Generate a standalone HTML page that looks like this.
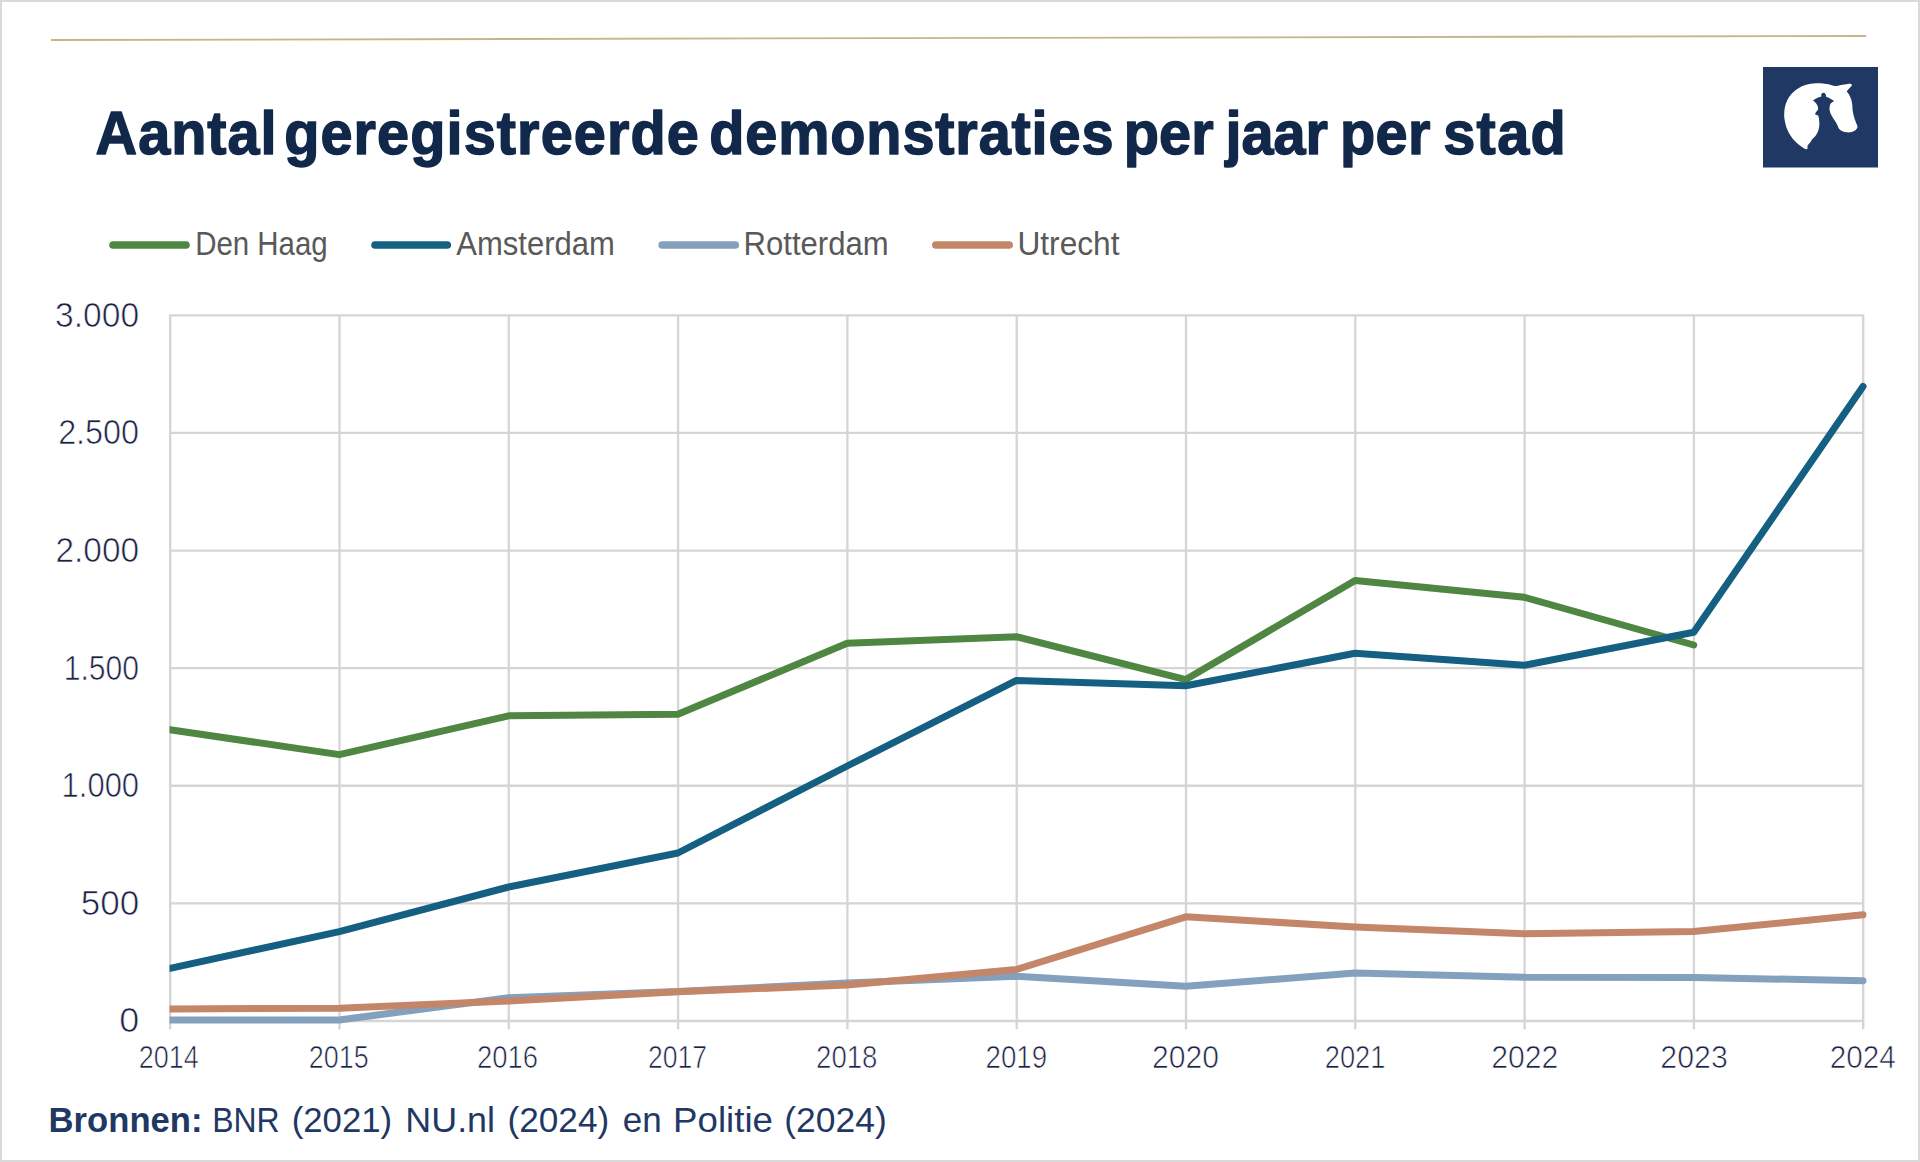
<!DOCTYPE html>
<html lang="nl"><head><meta charset="utf-8"><title>Aantal geregistreerde demonstraties per jaar per stad</title>
<style>html,body{margin:0;padding:0;background:#fff}body{width:1920px;height:1162px;overflow:hidden}svg{display:block}text{font-family:"Liberation Sans",sans-serif}.ax{stroke:#fff;stroke-width:0.7px}</style>
</head><body>
<svg width="1920" height="1162" viewBox="0 0 1920 1162">
<rect x="0" y="0" width="1920" height="1162" fill="#fff"/>
<rect x="1" y="1" width="1918" height="1160" fill="none" stroke="#d9d9d9" stroke-width="2"/>
<line x1="51" y1="40" x2="1866" y2="36" stroke="#c6b48a" stroke-width="1.8"/>
<rect x="1763" y="67" width="115" height="100.5" fill="#1f3864"/>
<path d="M1805.59 149.30C1804.38 148.46 1800.66 146.23 1798.34 144.21C1796.01 142.20 1793.54 139.75 1791.65 137.21C1789.76 134.66 1788.18 131.90 1787.00 128.93C1785.83 125.96 1785.05 121.93 1784.58 119.38C1784.12 116.84 1784.14 115.77 1784.20 113.65C1784.27 111.53 1784.41 108.98 1784.97 106.65C1785.52 104.31 1786.32 101.87 1787.51 99.65C1788.70 97.42 1790.27 95.19 1792.10 93.28C1793.92 91.37 1796.23 89.57 1798.46 88.19C1800.69 86.81 1803.03 85.79 1805.47 85.00C1807.91 84.22 1810.56 83.76 1813.11 83.48C1815.65 83.19 1818.20 83.14 1820.75 83.28C1823.29 83.43 1826.00 83.90 1828.39 84.37C1830.77 84.83 1832.95 85.98 1835.07 86.09C1837.19 86.19 1839.05 85.36 1841.12 85.00C1843.19 84.64 1845.87 84.11 1847.48 83.92C1849.10 83.73 1850.05 83.61 1850.80 83.86C1851.54 84.10 1851.75 85.13 1851.94 85.39L1849.39 88.19L1846.72 91.37C1847.17 92.01 1848.63 93.81 1849.39 95.19C1850.16 96.57 1850.83 98.05 1851.30 99.65C1851.78 101.24 1852.05 103.04 1852.26 104.74C1852.47 106.44 1852.31 107.92 1852.58 109.83C1852.84 111.74 1853.32 114.18 1853.85 116.20C1854.38 118.21 1855.16 120.23 1855.76 121.93C1856.37 123.63 1857.46 125.09 1857.48 126.39C1857.50 127.68 1856.81 128.77 1855.89 129.70C1854.97 130.62 1853.45 131.48 1851.94 131.92C1850.43 132.37 1848.44 132.48 1846.85 132.37C1845.26 132.26 1843.66 131.86 1842.39 131.29C1841.12 130.71 1840.00 129.85 1839.21 128.93C1838.41 128.01 1838.15 126.81 1837.62 125.75C1837.09 124.69 1836.71 123.73 1836.02 122.57C1835.34 121.40 1834.33 120.12 1833.48 118.75C1832.63 117.37 1831.59 115.77 1830.93 114.29C1830.27 112.80 1829.71 111.21 1829.53 109.83C1829.35 108.45 1829.62 107.09 1829.85 106.01C1830.08 104.93 1830.22 104.19 1830.93 103.34C1831.64 102.49 1833.58 101.32 1834.11 100.92L1831.25 99.14L1828.70 97.67L1826.09 96.65L1825.84 94.68L1824.95 93.22L1823.48 92.71L1822.02 93.22L1821.13 94.68L1821.38 96.53L1820.75 96.65L1818.20 97.55L1815.33 99.01L1812.91 100.41L1814.70 101.87L1816.61 104.10L1817.88 106.65L1818.20 109.20L1816.93 111.11L1815.65 112.70L1814.89 114.29L1816.61 114.93L1818.20 115.56C1818.33 116.09 1818.77 117.58 1818.96 118.75C1819.15 119.91 1819.31 121.19 1819.34 122.57C1819.38 123.94 1819.34 125.64 1819.15 127.02C1818.96 128.40 1818.68 129.57 1818.20 130.84C1817.72 132.11 1817.03 133.49 1816.29 134.66C1815.55 135.83 1814.48 137.00 1813.74 137.84C1813.00 138.69 1812.26 139.22 1811.83 139.75C1811.41 140.29 1811.62 140.39 1811.20 141.03C1810.77 141.66 1809.87 142.83 1809.29 143.57C1808.70 144.32 1808.01 144.85 1807.69 145.48C1807.38 146.12 1807.37 146.91 1807.38 147.39C1807.39 147.88 1808.05 148.09 1807.76 148.41C1807.46 148.73 1805.95 149.16 1805.59 149.30Z" fill="#fff"/>
<line x1="113" y1="245" x2="186" y2="245" stroke="#4f8642" stroke-width="7.6" stroke-linecap="round"/>
<line x1="375" y1="245" x2="447.3" y2="245" stroke="#156082" stroke-width="7.6" stroke-linecap="round"/>
<line x1="662.2" y1="245" x2="735.3" y2="245" stroke="#83a0bd" stroke-width="7.6" stroke-linecap="round"/>
<line x1="935.8" y1="245" x2="1009.2" y2="245" stroke="#c48668" stroke-width="7.6" stroke-linecap="round"/>
<text transform="translate(96.50 154.0) scale(0.93 1)" x="-1.00" y="0" font-size="62.0" font-weight="700" fill="#11284b" letter-spacing="0.998" stroke="#11284b" stroke-width="1.5" stroke-linejoin="round">Aantal</text>
<text transform="translate(286.00 154.0) scale(0.93 1)" x="-2.00" y="0" font-size="62.0" font-weight="700" fill="#11284b" letter-spacing="1.169" stroke="#11284b" stroke-width="1.5" stroke-linejoin="round">geregistreerde</text>
<text transform="translate(711.00 154.0) scale(0.93 1)" x="-2.00" y="0" font-size="62.0" font-weight="700" fill="#11284b" letter-spacing="0.917" stroke="#11284b" stroke-width="1.5" stroke-linejoin="round">demonstraties</text>
<text transform="translate(1127.50 154.0) scale(0.93 1)" x="-4.00" y="0" font-size="62.0" font-weight="700" fill="#11284b" letter-spacing="0.060" stroke="#11284b" stroke-width="1.5" stroke-linejoin="round">per</text>
<text transform="translate(1224.50 154.0) scale(0.93 1)" x="1.00" y="0" font-size="62.0" font-weight="700" fill="#11284b" letter-spacing="-0.038" stroke="#11284b" stroke-width="1.5" stroke-linejoin="round">jaar</text>
<text transform="translate(1343.70 154.0) scale(0.93 1)" x="-4.00" y="0" font-size="62.0" font-weight="700" fill="#11284b" letter-spacing="0.382" stroke="#11284b" stroke-width="1.5" stroke-linejoin="round">per</text>
<text transform="translate(1445.00 154.0) scale(0.93 1)" x="-2.00" y="0" font-size="62.0" font-weight="700" fill="#11284b" letter-spacing="1.471" stroke="#11284b" stroke-width="1.5" stroke-linejoin="round">stad</text>
<text x="195.20" y="254.8" font-size="32.7" font-weight="400" fill="#595959" textLength="132.56" lengthAdjust="spacingAndGlyphs" >Den Haag</text>
<text x="456.30" y="254.8" font-size="32.7" font-weight="400" fill="#595959" textLength="158.67" lengthAdjust="spacingAndGlyphs" >Amsterdam</text>
<text x="743.60" y="254.8" font-size="32.7" font-weight="400" fill="#595959" textLength="145.07" lengthAdjust="spacingAndGlyphs" >Rotterdam</text>
<text x="1017.46" y="254.8" font-size="32.7" font-weight="400" fill="#595959" textLength="102.02" lengthAdjust="spacingAndGlyphs" >Utrecht</text>
<text x="48.62" y="1132.1" font-size="35" font-weight="700" fill="#1f3864" textLength="153.91" lengthAdjust="spacingAndGlyphs" >Bronnen:</text>
<text x="212.18" y="1132.1" font-size="35" font-weight="400" fill="#1f3864" textLength="67.39" lengthAdjust="spacingAndGlyphs" >BNR</text>
<text x="291.71" y="1132.1" font-size="35" font-weight="400" fill="#1f3864" textLength="100.43" lengthAdjust="spacingAndGlyphs" >(2021)</text>
<text x="405.35" y="1132.1" font-size="35" font-weight="400" fill="#1f3864" textLength="89.67" lengthAdjust="spacingAndGlyphs" >NU.nl</text>
<text x="507.49" y="1132.1" font-size="35" font-weight="400" fill="#1f3864" textLength="101.67" lengthAdjust="spacingAndGlyphs" >(2024)</text>
<text x="622.80" y="1132.1" font-size="35" font-weight="400" fill="#1f3864" textLength="38.97" lengthAdjust="spacingAndGlyphs" >en</text>
<text x="673.11" y="1132.1" font-size="35" font-weight="400" fill="#1f3864" textLength="99.83" lengthAdjust="spacingAndGlyphs" >Politie</text>
<text x="784.27" y="1132.1" font-size="35" font-weight="400" fill="#1f3864" textLength="102.50" lengthAdjust="spacingAndGlyphs" >(2024)</text>
<text x="55.10" y="326.6" font-size="35.5" font-weight="400" fill="#1b2345" textLength="84.05" lengthAdjust="spacingAndGlyphs" class="ax">3.000</text>
<text x="58.14" y="444.2" font-size="35.5" font-weight="400" fill="#1b2345" textLength="80.99" lengthAdjust="spacingAndGlyphs" class="ax">2.500</text>
<text x="55.51" y="561.8" font-size="35.5" font-weight="400" fill="#1b2345" textLength="83.64" lengthAdjust="spacingAndGlyphs" class="ax">2.000</text>
<text x="63.75" y="679.5" font-size="35.5" font-weight="400" fill="#1b2345" textLength="75.33" lengthAdjust="spacingAndGlyphs" class="ax">1.500</text>
<text x="61.61" y="797.1" font-size="35.5" font-weight="400" fill="#1b2345" textLength="77.49" lengthAdjust="spacingAndGlyphs" class="ax">1.000</text>
<text x="80.76" y="914.7" font-size="35.5" font-weight="400" fill="#1b2345" textLength="58.42" lengthAdjust="spacingAndGlyphs" class="ax">500</text>
<text x="119.24" y="1032.3" font-size="35.5" font-weight="400" fill="#1b2345" textLength="19.96" lengthAdjust="spacingAndGlyphs" class="ax">0</text>
<text x="138.78" y="1067.8" font-size="31" font-weight="400" fill="#1b2345" textLength="60.08" lengthAdjust="spacingAndGlyphs" class="ax">2014</text>
<text x="308.78" y="1067.8" font-size="31" font-weight="400" fill="#1b2345" textLength="59.95" lengthAdjust="spacingAndGlyphs" class="ax">2015</text>
<text x="477.06" y="1067.8" font-size="31" font-weight="400" fill="#1b2345" textLength="61.08" lengthAdjust="spacingAndGlyphs" class="ax">2016</text>
<text x="648.09" y="1067.8" font-size="31" font-weight="400" fill="#1b2345" textLength="59.02" lengthAdjust="spacingAndGlyphs" class="ax">2017</text>
<text x="816.06" y="1067.8" font-size="31" font-weight="400" fill="#1b2345" textLength="61.39" lengthAdjust="spacingAndGlyphs" class="ax">2018</text>
<text x="985.46" y="1067.8" font-size="31" font-weight="400" fill="#1b2345" textLength="61.70" lengthAdjust="spacingAndGlyphs" class="ax">2019</text>
<text x="1151.98" y="1067.8" font-size="31" font-weight="400" fill="#1b2345" textLength="66.90" lengthAdjust="spacingAndGlyphs" class="ax">2020</text>
<text x="1324.77" y="1067.8" font-size="31" font-weight="400" fill="#1b2345" textLength="60.67" lengthAdjust="spacingAndGlyphs" class="ax">2021</text>
<text x="1491.28" y="1067.8" font-size="31" font-weight="400" fill="#1b2345" textLength="67.08" lengthAdjust="spacingAndGlyphs" class="ax">2022</text>
<text x="1660.37" y="1067.8" font-size="31" font-weight="400" fill="#1b2345" textLength="67.49" lengthAdjust="spacingAndGlyphs" class="ax">2023</text>
<text x="1829.69" y="1067.8" font-size="31" font-weight="400" fill="#1b2345" textLength="66.09" lengthAdjust="spacingAndGlyphs" class="ax">2024</text>
<path d="M168.9 315.30H1864.1M168.9 432.92H1864.1M168.9 550.53H1864.1M168.9 668.15H1864.1M168.9 785.77H1864.1M168.9 903.38H1864.1M168.9 1021.00H1864.1M170.20 314.2V1029.3M339.50 314.2V1029.3M508.80 314.2V1029.3M678.10 314.2V1029.3M847.40 314.2V1029.3M1016.70 314.2V1029.3M1186.00 314.2V1029.3M1355.30 314.2V1029.3M1524.60 314.2V1029.3M1693.90 314.2V1029.3M1863.20 314.2V1029.3" fill="none" stroke="#d5d5d5" stroke-width="2.3"/>
<defs><clipPath id="plot"><rect x="169.5" y="300" width="1697.5" height="740"/></clipPath></defs>
<g clip-path="url(#plot)" fill="none" stroke-width="7" stroke-linejoin="round" stroke-linecap="round">
<path d="M170.0 729.7L339.3 754.6L508.6 715.8L677.9 714.2L847.2 643.3L1016.5 636.7L1185.8 679.6L1355.1 580.4L1524.4 597.3L1693.7 645.0" stroke="#4f8642"/>
<path d="M170.0 968.3L339.3 931.6L508.6 887.0L677.9 853.0L847.2 766.0L1016.5 680.4L1185.8 685.8L1355.1 653.3L1524.4 665.2L1693.7 632.3L1863.0 386.5" stroke="#156082"/>
<path d="M170.0 1020.0L339.3 1020.0L508.6 997.7L677.9 991.5L847.2 983.0L1016.5 976.3L1185.8 986.3L1355.1 973.0L1524.4 977.2L1693.7 977.4L1863.0 980.8" stroke="#83a0bd"/>
<path d="M170.0 1008.9L339.3 1008.2L508.6 1001.0L677.9 991.8L847.2 985.0L1016.5 969.5L1185.8 916.8L1355.1 927.0L1524.4 933.8L1693.7 931.6L1863.0 914.8" stroke="#c48668"/>
</g>
</svg></body></html>
